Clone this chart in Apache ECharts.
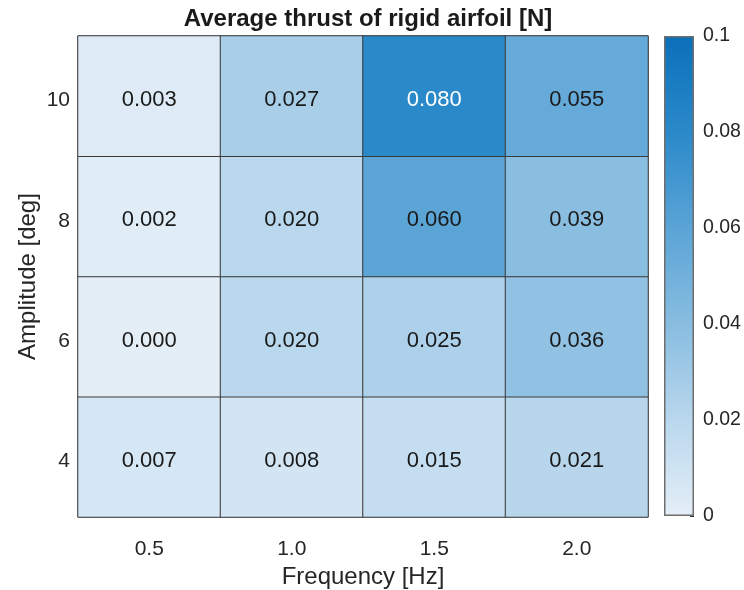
<!DOCTYPE html>
<html>
<head>
<meta charset="utf-8">
<script src="https://cdn.jsdelivr.net/npm/echarts@6/dist/echarts.min.js"></script>
<style>
  html, body { margin: 0; padding: 0; background: #ffffff; }
  #chart { width: 744px; height: 590px; }
</style>
</head>
<body>
<div id="chart"></div>
<script>
// Heatmap of average thrust of a rigid airfoil vs. pitching frequency and amplitude
const frequencies = ['0.5', '1.0', '1.5', '2.0'];
const amplitudes = ['4', '6', '8', '10'];          // bottom to top
// thrust [N]: one array per amplitude, one entry per frequency
const thrustAmp4  = [0.007, 0.008, 0.015, 0.021];
const thrustAmp6  = [0.000, 0.020, 0.025, 0.036];
const thrustAmp8  = [0.002, 0.020, 0.060, 0.039];
const thrustAmp10 = [0.003, 0.027, 0.080, 0.055];
const colorbarTicks = [0, 0.02, 0.04, 0.06, 0.08, 0.1];

const rows = [thrustAmp4, thrustAmp6, thrustAmp8, thrustAmp10];
const cMin = colorbarTicks[0];
const cMax = colorbarTicks[colorbarTicks.length - 1];
// light-to-deep sky blue ramp, evenly spaced over [cMin, cMax]
const palette = ['#e4eef7', '#b9d7ed', '#88bde0', '#5aa4d6', '#2a89c9', '#0b70ba'];

const fontFamily = '"Liberation Sans", Arial, Helvetica, sans-serif';
const textColor = '#262626';

const cells = [];
rows.forEach((row, yi) => {
  row.forEach((v, xi) => {
    cells.push({
      value: [xi, yi, v],
      label: { color: v > 0.065 ? '#ffffff' : '#1a1a1a' }
    });
  });
});

const chart = echarts.init(document.getElementById('chart'), null, { renderer: 'canvas' });

chart.setOption({
  animation: false,
  backgroundColor: '#ffffff',
  title: {
    text: 'Average thrust of rigid airfoil [N]',
    left: 363,
    top: 2,
    textAlign: 'center',
    textStyle: { fontFamily, fontSize: 24, fontWeight: 'bold', color: '#1a1a1a' }
  },
  grid: [
    { left: 78, right: 96, top: 36, bottom: 73, outerBoundsMode: 'none', containLabel: false,
      show: true, borderColor: '#6e6e6e', borderWidth: 1, backgroundColor: 'transparent' },
    { left: 664, width: 30, top: 36, bottom: 74, outerBoundsMode: 'none', containLabel: false }
  ],
  xAxis: [
    {
      type: 'category', gridIndex: 0, data: frequencies,
      name: 'Frequency [Hz]', nameLocation: 'middle', nameGap: 46,
      nameTextStyle: { fontFamily, fontSize: 24, color: textColor },
      axisLine: { show: false }, axisTick: { show: false },
      splitLine: { show: false },
      axisLabel: { fontFamily, fontSize: 21, color: textColor, margin: 22 }
    },
    { type: 'category', gridIndex: 1, data: ['c'], show: false }
  ],
  yAxis: [
    {
      type: 'category', gridIndex: 0, data: amplitudes,
      name: 'Amplitude [deg]', nameLocation: 'middle', nameGap: 38, nameMoveOverlap: false,
      nameTextStyle: { fontFamily, fontSize: 24, color: textColor },
      axisLine: { show: false }, axisTick: { show: false },
      splitLine: { show: false },
      axisLabel: {
        fontFamily, fontSize: 21, color: textColor, margin: 8,
        formatter: v => '{t|' + v + '}',
        rich: { t: { fontFamily, fontSize: 21, color: textColor, padding: [9, 0, 0, 0] } }
      }
    },
    {
      type: 'value', gridIndex: 1, position: 'right',
      min: cMin, max: cMax, interval: 0.02,
      axisLine: { show: false },
      axisTick: { show: true, inside: true, length: 4, lineStyle: { color: '#333333' } },
      splitLine: { show: false },
      axisLabel: { fontFamily, fontSize: 19.5, color: textColor, margin: 9 }
    }
  ],
  visualMap: {
    show: false, seriesIndex: 0, dimension: 2,
    min: cMin, max: cMax,
    inRange: { color: palette }
  },
  series: [
    {
      type: 'heatmap', xAxisIndex: 0, yAxisIndex: 0,
      data: cells,
      label: {
        show: true, fontFamily, fontSize: 22, offset: [0, 4],
        formatter: p => p.value[2].toFixed(3)
      },
      itemStyle: { borderColor: '#3a3a3a', borderWidth: 1 },
      emphasis: { disabled: true }
    },
    {
      type: 'bar', xAxisIndex: 1, yAxisIndex: 1,
      data: [cMax], barWidth: '100%', silent: true,
      itemStyle: {
        borderColor: '#6e6e6e', borderWidth: 1.5,
        color: {
          type: 'linear', x: 0, y: 1, x2: 0, y2: 0,
          colorStops: palette.map((c, i) => ({ offset: i / (palette.length - 1), color: c }))
        }
      }
    }
  ]
});
</script>
</body>
</html>
